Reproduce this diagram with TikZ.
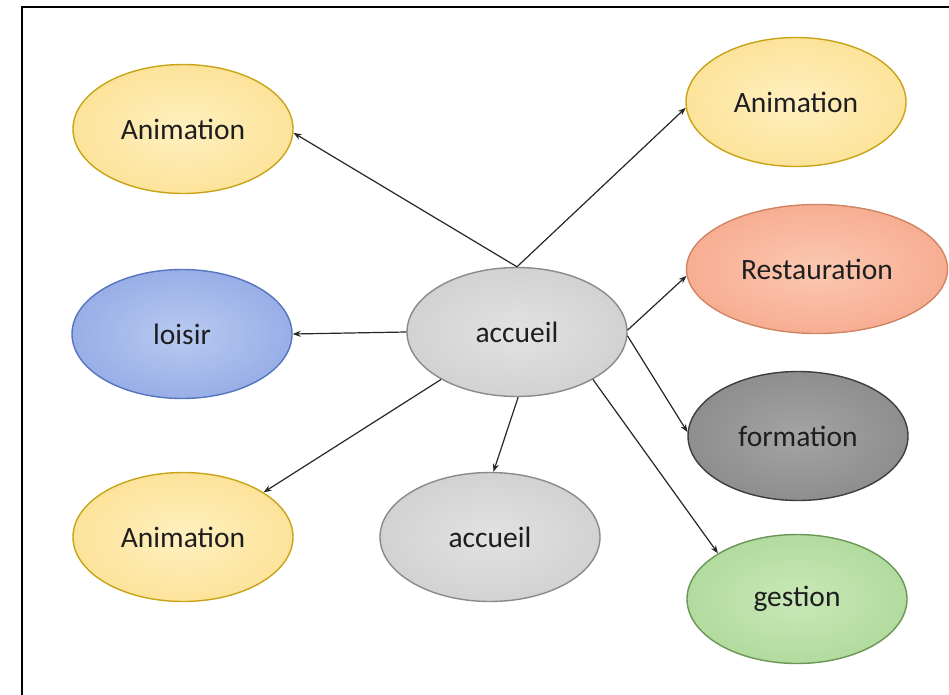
\documentclass[tikz,border=0pt]{standalone}
\usepackage{fontspec}
\setmainfont{Carlito}
\usetikzlibrary{shapes.geometric,arrows.meta}
\definecolor{yelF}{HTML}{FCE39A}
\definecolor{yelI}{HTML}{FFF0C0}
\definecolor{yelD}{HTML}{C8A416}
\definecolor{bluF}{HTML}{98AEE6}
\definecolor{bluI}{HTML}{B8CAF2}
\definecolor{bluD}{HTML}{5675C0}
\definecolor{gryF}{HTML}{D2D2D2}
\definecolor{gryI}{HTML}{E2E2E2}
\definecolor{gryD}{HTML}{8A8A8A}
\definecolor{salF}{HTML}{F7AE92}
\definecolor{salI}{HTML}{FBC8B2}
\definecolor{salD}{HTML}{D08462}
\definecolor{dgrF}{HTML}{8E8E8E}
\definecolor{dgrI}{HTML}{A4A4A4}
\definecolor{dgrD}{HTML}{3E3E3E}
\definecolor{grnF}{HTML}{B2DB9E}
\definecolor{grnI}{HTML}{C8E8B8}
\definecolor{grnD}{HTML}{6A9656}
\definecolor{txt}{HTML}{1E1E1E}
\tikzset{
  bubble/.style={ellipse, inner sep=0pt, minimum width=220pt, minimum height=129pt,
    line width=1.4pt, text=txt, font=\fontsize{29.5}{34}\selectfont},
  yel/.style={bubble, draw=yelD, inner color=yelI, outer color=yelF},
  blu/.style={bubble, draw=bluD, inner color=bluI, outer color=bluF},
  gry/.style={bubble, draw=gryD, inner color=gryI, outer color=gryF},
  sal/.style={bubble, draw=salD, inner color=salI, outer color=salF},
  dgr/.style={bubble, draw=dgrD, inner color=dgrI, outer color=dgrF},
  grn/.style={bubble, draw=grnD, inner color=grnI, outer color=grnF},
  link/.style={-{Stealth[length=8pt,width=6pt]}, line width=1.2pt, draw=black!85},
  frame/.style={line width=2.2pt, draw=black}
}
\begin{document}
\begin{tikzpicture}[x=1pt,y=-1pt]
\useasboundingbox (0,0) rectangle (949,695);
\draw[frame] (949,7) -- (22,7) -- (22,695);
\node[yel] (a1) at (183,129) {Animation};
\node[blu] (lo) at (182,334) {loisir};
\node[yel] (a3) at (183,537) {Animation};
\node[gry] (c)  at (517,332) {accueil};
\node[gry] (ac2) at (490,537) {accueil};
\node[yel] (a2) at (796,102) {Animation};
\node[sal, minimum width=261pt] (re) at (817,269) {Restauration};
\node[dgr] (fo) at (798,436) {formation};
\node[grn] (ge) at (797,599) {gestion};
\draw[link] (c.90) -- (a1.358);
\draw[link] (c.90) -- (a2.183);
\draw[link] (c.180) -- (lo.0);
\draw[link] (c.212.6) -- (a3.29.4);
\draw[link] (c.271) -- (ac2.87);
\draw[link] (c.1) -- (re.183);
\draw[link] (c.358) -- (fo.178.4);
\draw[link] (c.328.4) -- (ge.150.8);
\end{tikzpicture}
\end{document}
